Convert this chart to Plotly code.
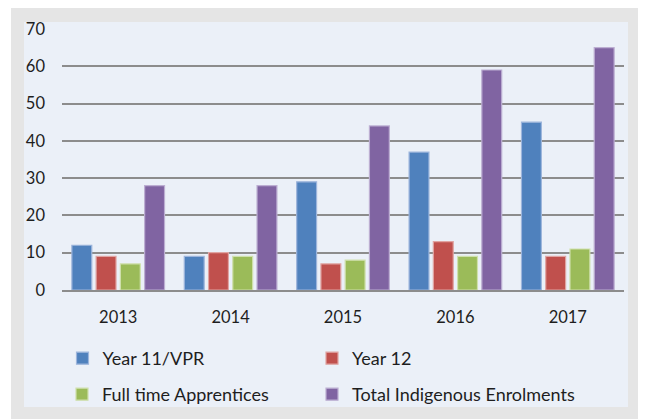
import plotly.graph_objects as go

years = ["2013", "2014", "2015", "2016", "2017"]
year11_vpr = [12, 9, 29, 37, 45]
year12 = [9, 10, 7, 13, 9]
apprentices = [7, 9, 8, 9, 11]
total_indigenous = [28, 28, 44, 59, 65]
y_ticks = [0, 10, 20, 30, 40, 50, 60, 70]

series = [
    ("Year 11/VPR", year11_vpr, "#4F81BD", "#9DB5DC", "legend"),
    ("Year 12", year12, "#C0504D", "#E0A4A2", "legend2"),
    ("Full time Apprentices", apprentices, "#9BBB59", "#CFE0AC", "legend3"),
    ("Total Indigenous Enrolments", total_indigenous, "#8064A2", "#BCAED2", "legend4"),
]

# the page body has an 8px margin, so the figure is drawn 8px smaller and shifted
OFF = 8
W, H = 646 - OFF, 419 - OFF
L, R, T, B = 62 - OFF, 22, 29 - OFF, 129
pw, ph = W - L - R, H - T - B

def px_x(p):
    return (p - OFF - L) / pw

def px_y(p):
    return (H - B - (p - OFF)) / ph

fig = go.Figure()
for name, vals, col, edge, lg in series:
    fig.add_trace(go.Bar(
        x=years, y=vals, name=name, legend=lg, showlegend=True,
        marker=dict(color=col, line=dict(color=edge, width=1.2)),
    ))

font_family = "Lato, 'Open Sans', sans-serif"
txt = "#1E1E1E"

shapes = [
    dict(type="rect", xref="paper", yref="paper", x0=px_x(11), x1=px_x(641),
         y0=px_y(430), y1=px_y(8), fillcolor="#E5E5E5", line=dict(width=0), layer="below"),
    dict(type="rect", xref="paper", yref="paper", x0=px_x(24), x1=px_x(628),
         y0=px_y(407), y1=px_y(22), fillcolor="#EBF0F8", line=dict(width=0), layer="below"),
    dict(type="rect", xref="paper", yref="paper", x0=px_x(641), x1=px_x(660),
         y0=px_y(430), y1=px_y(40), fillcolor="#555555", line=dict(width=0), layer="below"),
    dict(type="rect", xref="paper", yref="paper", x0=px_x(641), x1=px_x(660),
         y0=px_y(40), y1=px_y(20), fillcolor="#8A8A8A", line=dict(width=0), layer="below"),
    dict(type="rect", xref="paper", yref="paper", x0=px_x(641), x1=px_x(660),
         y0=px_y(20), y1=px_y(8), fillcolor="#C8C8C8", line=dict(width=0), layer="below"),
]

legend_common = dict(
    orientation="h", xanchor="left", yanchor="middle",
    font=dict(family=font_family, size=18, color=txt),
    bgcolor="rgba(0,0,0,0)", visible=True,
    itemclick=False, itemdoubleclick=False,
)

fig.update_layout(
    width=W, height=H,
    margin=dict(l=L, r=R, t=T, b=B, pad=0, autoexpand=False),
    paper_bgcolor="#FFFFFF",
    plot_bgcolor="rgba(0,0,0,0)",
    showlegend=True,
    barmode="group", bargap=0.137, bargroupgap=0.18,
    font=dict(family=font_family, size=16.5, color=txt),
    shapes=shapes,
    legend=dict(x=px_x(62.5), y=px_y(358.5), **legend_common),
    legend2=dict(x=px_x(312), y=px_y(358.5), **legend_common),
    legend3=dict(x=px_x(62), y=px_y(394.5), **legend_common),
    legend4=dict(x=px_x(312), y=px_y(394.5), **legend_common),
    xaxis=dict(
        showgrid=False, showline=True, linecolor="#8C8C8C", linewidth=1.5,
        ticks="", ticklabelstandoff=11, tickfont=dict(size=16.5, color=txt),
    ),
    yaxis=dict(
        range=[0, 70], tickvals=y_ticks, showgrid=True, gridcolor="#8C8C8C", gridwidth=1.5,
        zeroline=False, showline=False, ticks="", ticklabelstandoff=16,
        tickfont=dict(size=16.5, color=txt),
    ),
)

fig.write_html("out.html")
